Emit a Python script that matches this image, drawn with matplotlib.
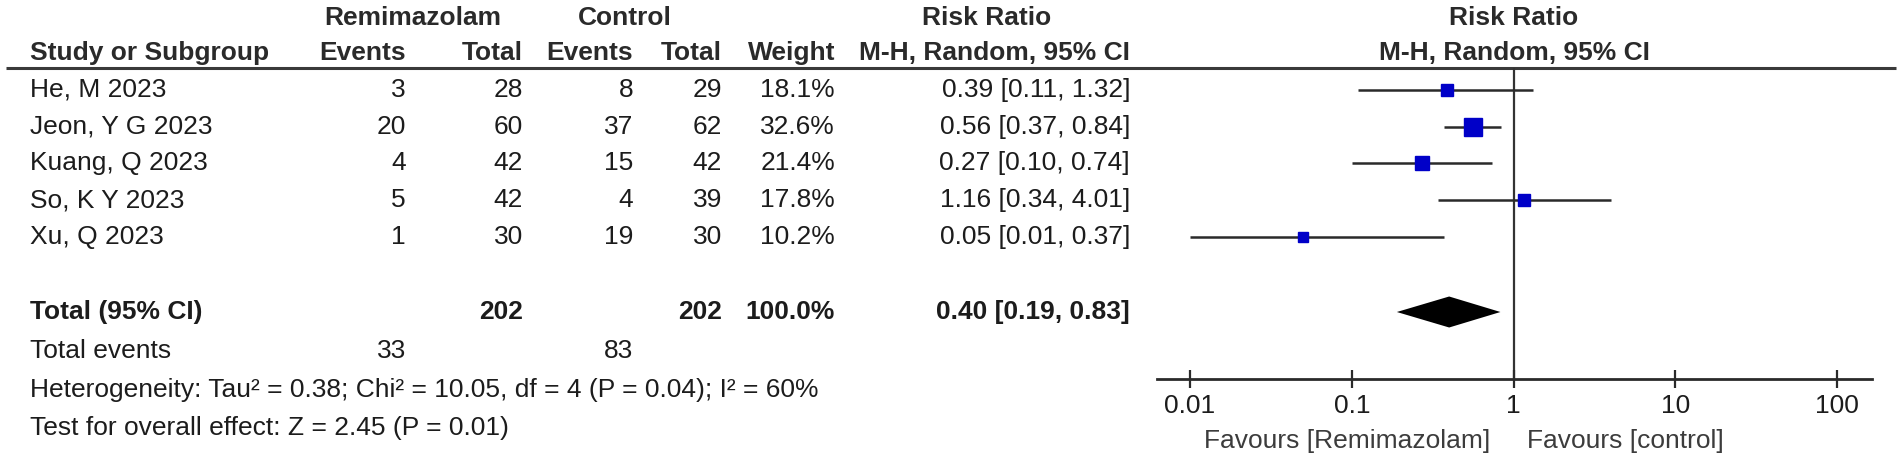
import matplotlib
matplotlib.use("Agg")
import matplotlib.pyplot as plt
import numpy as np

# ---------------- data ----------------
studies = ["He, M 2023", "Jeon, Y G 2023", "Kuang, Q 2023", "So, K Y 2023", "Xu, Q 2023"]
rem_events = [3, 20, 4, 5, 1]
rem_total = [28, 60, 42, 42, 30]
ctl_events = [8, 37, 15, 4, 19]
ctl_total = [29, 62, 42, 39, 30]
weights = [18.1, 32.6, 21.4, 17.8, 10.2]
rr = [0.39, 0.56, 0.27, 1.16, 0.05]
ci_lo = [0.11, 0.37, 0.10, 0.34, 0.01]
ci_hi = [1.32, 0.84, 0.74, 4.01, 0.37]

total_rem = 202
total_ctl = 202
total_weight = "100.0%"
total_rr = 0.40
total_lo = 0.19
total_hi = 0.83
events_rem = 33
events_ctl = 83
heterogeneity = "Heterogeneity: Tau² = 0.38; Chi² = 10.05, df = 4 (P = 0.04); I² = 60%"
overall = "Test for overall effect: Z = 2.45 (P = 0.01)"
xticks = [0.01, 0.1, 1, 10, 100]
xtick_labels = ["0.01", "0.1", "1", "10", "100"]
fav_left = "Favours [Remimazolam]"
fav_right = "Favours [control]"

# ---------------- layout ----------------
W, H = 1902, 461
fig = plt.figure(figsize=(W / 100, H / 100), dpi=100)
fig.patch.set_facecolor("white")

ax = fig.add_axes([0, 0, 1, 1])
ax.set_xlim(0, W)
ax.set_ylim(H, 0)
ax.axis("off")

FONT = ["Liberation Sans", "DejaVu Sans"]
BODY = 19
HEAD = 19
TXT = "#1c1c1c"
HCOL = "#2a2a2a"

hy1, hy2 = 18, 53
line_y = 68
row0, row_step = 90, 36.7
row_y = [row0 + i * row_step for i in range(len(studies))]
tot_y = 312
ev_y = 351
het_y = 390
ovr_y = 428

col_name = 30
col_re = 406
col_rt = 523
col_ce = 633
col_ct = 722
col_w = 835
col_ci = 1130
plot_c = 1514


def t(x, y, s, ha="left", bold=False, size=BODY, color=TXT):
    ax.text(x, y, s, ha=ha, va="center", fontsize=size, family=FONT,
            fontweight="bold" if bold else "normal", color=color)


# headers
t(413, hy1, "Remimazolam", ha="center", bold=True, size=HEAD, color=HCOL)
t(625, hy1, "Control", ha="center", bold=True, size=HEAD, color=HCOL)
t(987, hy1, "Risk Ratio", ha="center", bold=True, size=HEAD, color=HCOL)
t(plot_c, hy1, "Risk Ratio", ha="center", bold=True, size=HEAD, color=HCOL)
t(col_name, hy2, "Study or Subgroup", bold=True, size=HEAD, color=HCOL)
t(col_re, hy2, "Events", ha="right", bold=True, size=HEAD, color=HCOL)
t(col_rt, hy2, "Total", ha="right", bold=True, size=HEAD, color=HCOL)
t(col_ce, hy2, "Events", ha="right", bold=True, size=HEAD, color=HCOL)
t(col_ct, hy2, "Total", ha="right", bold=True, size=HEAD, color=HCOL)
t(col_w, hy2, "Weight", ha="right", bold=True, size=HEAD, color=HCOL)
t(col_ci, hy2, "M-H, Random, 95% CI", ha="right", bold=True, size=HEAD, color=HCOL)
t(plot_c, hy2, "M-H, Random, 95% CI", ha="center", bold=True, size=HEAD, color=HCOL)

ax.plot([6, 1896], [line_y, line_y], color="#3a3a3a", lw=2.2, solid_capstyle="butt")

# study rows
for i, y in enumerate(row_y):
    t(col_name, y, studies[i])
    t(col_re, y, str(rem_events[i]), ha="right")
    t(col_rt, y, str(rem_total[i]), ha="right")
    t(col_ce, y, str(ctl_events[i]), ha="right")
    t(col_ct, y, str(ctl_total[i]), ha="right")
    t(col_w, y, f"{weights[i]:.1f}%", ha="right")
    t(col_ci, y, f"{rr[i]:.2f} [{ci_lo[i]:.2f}, {ci_hi[i]:.2f}]", ha="right")

# totals
t(col_name, tot_y, "Total (95% CI)", bold=True, size=HEAD)
t(col_rt, tot_y, str(total_rem), ha="right", bold=True, size=HEAD)
t(col_ct, tot_y, str(total_ctl), ha="right", bold=True, size=HEAD)
t(col_w, tot_y, total_weight, ha="right", bold=True, size=HEAD)
t(col_ci, tot_y, f"{total_rr:.2f} [{total_lo:.2f}, {total_hi:.2f}]", ha="right", bold=True, size=HEAD)
t(col_name, ev_y, "Total events")
t(col_re, ev_y, str(events_rem), ha="right")
t(col_ce, ev_y, str(events_ctl), ha="right")
t(col_name, het_y, heterogeneity)
t(col_name, ovr_y, overall)

# ---------------- forest axes ----------------
x0, x1 = 1157, 1872
ytop, ybot = line_y, 379
axf = fig.add_axes([x0 / W, 1 - ybot / H, (x1 - x0) / W, (ybot - ytop) / H])
axf.set_xscale("log")
axf.set_xlim(10 ** -2.204, 10 ** 2.216)
axf.set_ylim(ybot, ytop)
axf.patch.set_alpha(0)
for s in ["top", "left", "right"]:
    axf.spines[s].set_visible(False)
axf.spines["bottom"].set_linewidth(2.0)
axf.spines["bottom"].set_color("#2a2a2a")
axf.set_yticks([])
axf.set_xticks(xticks)
axf.set_xticklabels(xtick_labels)
axf.minorticks_off()
axf.tick_params(axis="x", which="major", direction="inout", length=13.5, width=1.6,
                color="#2a2a2a", pad=4, labelsize=BODY, labelcolor=TXT)
for lab in axf.get_xticklabels():
    lab.set_family(FONT)
axf.tick_params(axis="x", which="minor", length=0)

axf.axvline(1, color="#333333", lw=1.6, zorder=1)

ms_max = 12.4
for i, y in enumerate(row_y):
    axf.hlines(y, ci_lo[i], ci_hi[i], color="#2a2a2a", lw=1.8, zorder=2)
    ms = ms_max * np.sqrt(weights[i] / max(weights))
    axf.plot(rr[i], y, marker="s", ms=ms, color="#0000c8", mec="#0000c8", zorder=3)

dh = 15.5
axf.fill([total_lo, total_rr, total_hi, total_rr], [tot_y, tot_y - dh, tot_y, tot_y + dh],
         color="black", zorder=3, lw=0)

fav_y = 441
t(1490, fav_y, fav_left, ha="right", color="#3c3c3c")
t(1527, fav_y, fav_right, ha="left", color="#3c3c3c")

fig.savefig("out.png", dpi=100, facecolor="white")
